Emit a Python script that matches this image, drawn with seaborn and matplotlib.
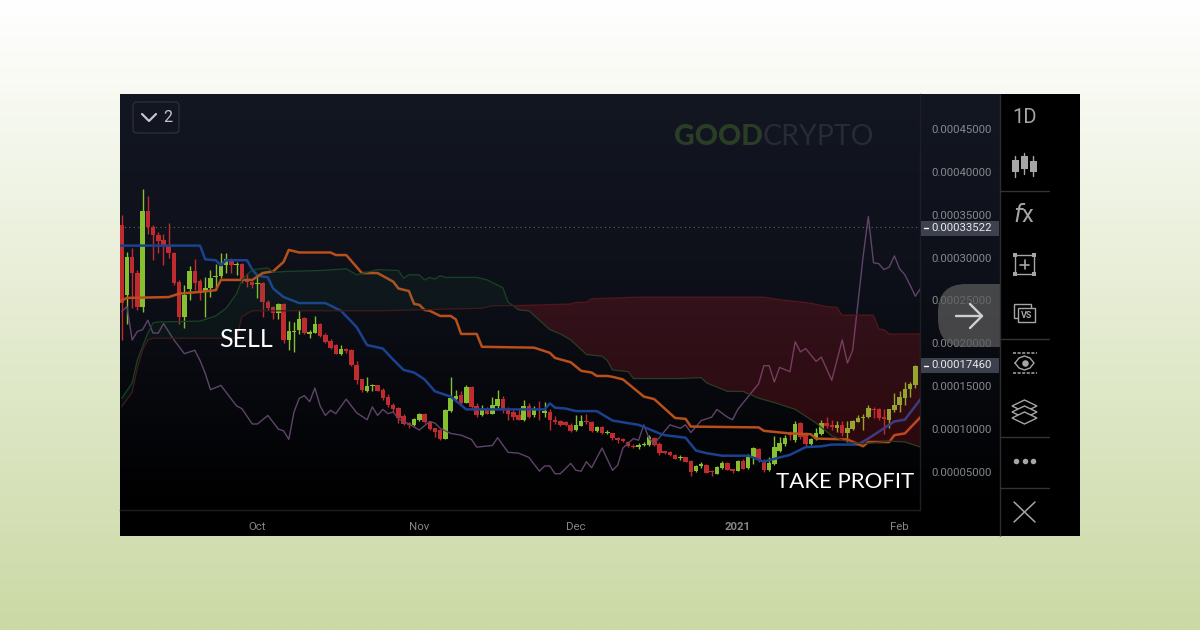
import numpy as np
import pandas as pd
import matplotlib
matplotlib.use("Agg")
import matplotlib.pyplot as plt
import seaborn as sns
from matplotlib.colors import LinearSegmentedColormap
from matplotlib.patches import FancyBboxPatch, Rectangle, Polygon

# candles, one a day from 5 Sep 2020, prices in units of 1e-5
opens = [33.8,25.6,30.1,28.2,24.3,35.4,33.6,32.6,32.0,31.5,30.5,27.2,23.1,26.3,28.4,27.3,26.1,26.4,27.7,27.8,
         29.1,29.7,29.1,29.3,27.5,27.1,26.9,27.0,24.8,24.2,23.6,24.6,20.4,21.3,21.6,23.0,21.1,21.2,22.3,21.0,
         20.3,19.8,18.8,19.3,19.2,17.5,15.8,14.5,15.05,15.1,14.6,13.8,12.8,12.5,11.5,10.7,10.5,11.1,11.8,10.8,
         10.1,9.9,8.9,12.1,13.5,14.0,13.1,14.9,12.7,11.6,12.4,11.8,12.7,13.5,12.3,12.0,11.6,11.1,12.7,11.6,
         12.4,11.9,12.0,11.1,11.0,10.8,10.5,9.9,10.4,11.0,10.8,9.8,10.3,9.5,9.5,9.0,8.9,8.5,8.0,7.9,
         8.1,8.2,9.0,8.3,7.4,7.3,7.0,6.6,6.8,6.3,5.1,5.7,5.8,5.1,4.8,5.5,6.1,5.3,5.1,6.3,
         5.5,6.7,7.7,6.3,5.2,5.9,7.4,8.3,9.5,8.7,10.7,9.3,8.3,8.8,9.4,10.7,10.5,10.1,10.5,9.6,
         10.0,10.8,11.3,11.4,12.4,12.3,11.4,11.1,12.2,12.8,13.6,14.7,15.1]
highs = [35.0,30.7,31.1,28.6,38.0,37.2,33.8,33.0,32.8,34.0,30.7,27.4,26.8,29.0,29.8,27.5,27.7,28.6,29.3,30.5,
         30.5,29.9,29.5,29.4,28.2,27.3,28.0,27.2,25.1,24.4,24.7,24.7,22.6,22.5,23.9,23.1,21.6,23.2,22.4,21.2,
         20.5,19.9,19.8,19.5,19.3,18.0,15.9,16.1,15.3,15.2,14.8,14.1,13.0,12.6,11.8,10.8,11.3,11.9,11.9,11.0,
         10.1,10.0,12.4,16.1,14.6,14.4,15.1,15.0,13.1,12.8,12.6,13.8,14.6,13.9,12.6,12.2,12.4,13.4,13.0,12.7,
         13.3,13.2,12.4,11.5,11.1,10.9,10.7,11.6,11.6,11.8,10.9,10.4,10.4,9.9,9.6,9.1,9.0,8.6,8.3,8.4,
         8.5,9.3,9.1,8.5,7.5,7.5,7.1,7.0,6.8,6.4,5.8,6.2,5.9,5.2,5.7,6.3,6.2,5.4,6.4,6.5,
         7.1,7.9,7.8,6.5,6.7,9.2,9.1,9.3,9.8,10.9,10.8,9.7,9.0,10.1,11.1,11.4,11.1,10.9,11.0,11.0,
         11.1,11.6,11.8,12.8,12.6,12.5,12.4,12.4,14.2,14.4,15.5,15.5,17.5]
lows = [20.4,22.3,24.1,23.9,23.7,32.8,29.7,30.5,29.1,29.9,26.8,22.3,21.8,25.1,26.2,25.1,23.1,25.4,26.2,27.6,
        28.2,28.2,28.0,27.0,26.6,26.4,25.3,23.1,23.9,22.8,22.9,20.0,19.2,19.0,21.1,21.1,20.6,21.2,20.8,20.1,
        19.4,18.8,18.6,18.9,17.4,15.3,14.3,14.3,14.4,14.4,13.4,12.6,12.0,10.7,10.5,10.1,10.4,10.9,10.7,9.9,
        9.1,8.7,8.8,12.0,13.2,12.8,13.0,12.4,11.4,11.5,11.8,11.8,12.5,11.9,11.1,11.1,11.1,10.9,11.3,11.4,
        11.1,11.4,9.9,10.6,10.4,10.4,9.7,9.8,10.4,10.6,9.7,9.7,9.4,9.4,8.7,8.4,8.5,7.9,7.8,7.7,
        8.0,8.0,8.0,7.0,7.1,6.9,6.5,6.4,6.2,4.5,5.0,5.5,4.9,4.5,4.8,5.4,5.2,4.9,5.1,5.3,
        5.4,5.9,6.2,5.0,5.1,5.8,7.3,8.0,8.7,8.5,8.8,8.0,8.2,8.7,9.3,10.1,9.9,9.7,9.2,8.5,
        9.9,10.8,9.9,11.3,11.3,11.1,9.4,10.1,12.0,12.0,12.8,13.8,14.8]
closes = [24.7,30.1,28.2,24.3,35.4,33.6,32.6,31.9,31.5,30.5,27.0,23.1,25.6,28.4,27.0,26.1,26.5,27.6,27.9,29.0,
          29.8,29.1,29.3,27.4,27.1,26.8,27.0,24.8,24.1,23.6,24.6,20.4,21.5,21.4,22.8,21.2,21.3,22.3,20.9,20.2,
          19.5,18.8,19.4,19.1,17.5,15.7,14.6,15.0,15.15,14.5,13.6,12.8,12.4,11.3,10.6,10.5,11.2,11.8,10.8,10.0,
          9.7,8.9,12.2,13.6,13.9,13.0,14.9,12.6,11.6,12.3,11.8,12.8,13.5,12.4,11.8,11.4,11.1,12.7,11.4,12.4,
          12.2,12.1,11.1,10.8,10.5,10.5,9.8,10.5,11.0,10.8,9.8,10.3,9.5,9.7,9.0,8.7,8.6,8.0,7.9,8.1,
          8.3,9.1,8.1,7.2,7.2,7.0,6.5,6.7,6.2,5.0,5.7,5.9,4.9,5.0,5.6,6.1,5.2,5.1,6.3,5.4,
          6.7,7.8,6.4,5.2,6.0,7.9,8.4,9.0,9.3,10.6,9.1,8.3,8.8,9.5,10.7,10.4,10.3,10.5,9.5,10.1,
          11.0,11.3,11.4,12.5,12.2,11.3,11.2,12.3,12.8,13.7,14.7,15.3,17.4]

# indicator lines, day number and price
tenkan_day = [-1,15,16,18,19,20,24,25,26,28,29,31,34,39,42,45,47,50,52,54,56,58,60,63,65,66,81,82,83,85,87,91,94,99,
              103,104,108,110,112,115,120,123,126,128,131,134,136,141,143,146,148,150,153]
tenkan = [31.4,31.4,29.8,29.7,29.1,29.7,29.7,28.6,27.9,27.7,26.4,25.4,24.7,24.7,23.8,21.9,19.8,19.4,18.1,16.9,16.6,15.8,14.4,13.8,12.8,12.3,12.3,13.0,12.5,12.4,12.1,12.1,11.0,10.5,
          9.5,9.3,9.0,7.5,7.2,6.9,6.9,6.2,6.7,7.0,7.9,8.0,8.2,8.2,8.9,10.1,10.9,11.1,13.5]
kijun_day = [-1,1,9,11,15,18,19,25,27,29,31,32,34,40,41,43,46,49,52,53,55,56,57,58,59,61,63,64,65,68,69,79,82,83,86,
             88,90,91,93,94,96,98,100,102,106,108,109,122,123,128,132,133,139,142,143,147,148,150,153]
kijun = [24.7,25.3,25.4,25.8,26.0,26.2,27.4,27.4,28.2,28.4,29.5,30.9,30.6,30.6,30.3,30.3,28.2,28.2,27.2,26.4,26.1,24.6,24.5,23.9,23.8,23.2,23.2,22.8,21.1,21.1,19.6,19.5,18.9,18.3,17.8,
         16.8,16.6,16.2,16.2,16.1,15.8,14.8,13.8,13.5,11.3,11.2,10.3,10.2,9.8,9.5,9.4,8.9,8.8,8.0,8.5,8.5,9.3,9.5,11.4]
span_a_day = [0,2,3,5,6,7,15,18,20,22,23,25,28,29,32,38,43,45,49,53,54,55,57,58,59,60,61,62,68,70,72,73,74,75,
              76,78,82,84,86,89,92,93,94,97,98,107,111,112,116,119,122,125,129,133,136,139,142,147,150,153]
span_a = [13.6,15.4,18.1,21.2,22.4,22.5,22.6,23.2,24.1,25.8,27.4,28.6,28.8,28.3,28.4,28.5,28.7,28.0,28.6,28.5,27.6,28.0,28.0,27.4,27.7,27.5,27.9,27.7,27.7,27.4,26.8,26.5,24.8,24.4,
          23.9,23.8,21.6,21.1,20.4,18.7,18.5,18.0,16.9,16.7,15.9,15.9,16.0,15.4,14.4,14.4,13.6,13.1,12.3,10.7,9.2,8.5,8.3,8.6,8.5,7.9]
span_b_day = [0,2,3,4,5,6,22,23,25,50,69,71,75,86,87,89,90,99,107,123,126,132,135,137,138,144,145,146,147,153]
span_b = [12.6,14.3,17.1,19.2,20.4,20.6,20.6,23.1,23.8,23.8,24.1,24.4,24.4,24.6,24.8,24.8,25.2,25.4,25.4,25.4,25.1,24.7,24.3,24.2,23.3,23.3,21.7,21.6,21.1,21.1]
chikou_day = [0,1,2,3,4,5,6,7,8,10,12,14,15,16,17,19,22,23,25,26,28,30,31,32,33,34,35,36,37,38,39,40,41,43,45,47,48,49,50,51,52,53,54,
              55,57,59,60,61,63,65,67,68,71,72,74,76,78,80,81,82,83,84,86,87,88,89,90,92,94,95,96,98,99,100,101,102,105,107,108,109,
              111,113,114,116,117,118,120,122,123,124,125,126,128,129,130,131,133,134,136,138,139,140,141,142,143,144,145,146,147,148,149,150,151,152,153]
chikou = [23.7,24.3,20.4,21.4,21.6,22.7,21.2,21.2,22.3,20.4,18.8,19.2,18.0,16.5,14.6,15.1,12.7,12.4,10.6,10.6,11.6,10.0,9.8,8.8,12.0,13.6,13.9,13.2,14.8,12.7,11.6,12.2,11.8,13.5,11.9,11.1,12.6,11.6,12.3,11.8,12.0,11.2,10.9,
          10.6,9.9,10.9,10.7,10.1,9.5,9.3,8.8,7.9,8.1,9.0,7.3,7.2,6.7,5.1,5.7,5.7,4.8,4.8,6.0,5.2,5.1,6.2,5.5,7.8,5.2,5.8,7.8,8.9,8.7,10.5,8.9,8.3,10.5,10.1,10.5,9.6,
          11.0,11.4,12.3,11.4,11.1,12.3,13.8,15.3,17.4,17.4,15.5,17.2,16.7,20.2,19.0,19.4,17.9,18.4,15.7,20.4,17.7,19.2,24.6,30.1,34.8,29.4,29.3,28.6,28.9,30.2,28.7,28.0,26.8,25.5,26.4]

price_ticks = [45, 40, 35, 30, 25, 20, 15, 10, 5]
price_labels = ["0.00045000","0.00040000","0.00035000","0.00030000","0.00025000","0.00020000","0.00015000","0.00010000","0.00005000"]
last_prices = [33.522, 17.460]
last_labels = ["0.00033522", "0.00017460"]
month_dates = ["2020-10-01","2020-11-01","2020-12-01","2021-01-01","2021-02-01"]
month_labels = ["Oct","Nov","Dec","2021","Feb"]

start = pd.Timestamp("2020-09-05")
df = pd.DataFrame({"day":np.arange(len(opens)),"open":opens,"high":highs,"low":lows,"close":closes})
up = df["close"] >= df["open"]

sns.set_theme(style="white")
plt.rcParams["font.family"] = ["Roboto", "DejaVu Sans"]

fig = plt.figure(figsize=(12, 6.3), dpi=100)

# pixel layer for the page and the panel background
back = fig.add_axes([0, 0, 1, 1], zorder=0)
page = LinearSegmentedColormap.from_list("page", ["#ffffff", "#cbd9a5"])
back.imshow(np.linspace(0, 1, 256)[:, None], extent=(0, 1200, 630, 0), aspect="auto", cmap=page)
dark = LinearSegmentedColormap.from_list("dark", ["#131722", "#0d0f18", "#000000"])
back.imshow(np.linspace(0, 1, 256)[:, None], extent=(120, 1000, 510, 94), aspect="auto", cmap=dark)
back.add_patch(Rectangle((120, 510), 880, 25.5, color="black", lw=0))
back.set_xlim(0, 1200)
back.set_ylim(630, 0)
back.axis("off")

# main chart, 120-920 px wide and 94-510 px high
ax = fig.add_axes([120/1200, 1-510/630, 800/1200, 416/630], zorder=1)
ax.patch.set_alpha(0)

ax.axhline(last_prices[0], color="#5f636e", lw=0.8, ls=(0, (1, 3)), zorder=1)

# candles
ax.vlines(df["day"][up], df["low"][up], df["high"][up], color="#86c030", lw=1.0, zorder=2)
ax.vlines(df["day"][~up], df["low"][~up], df["high"][~up], color="#bf2b2f", lw=1.0, zorder=2)
ax.bar(df["day"][up], (df["close"]-df["open"])[up], bottom=df["open"][up], width=0.86, color="#86c030", lw=0, zorder=2)
ax.bar(df["day"][~up], (df["open"]-df["close"])[~up], bottom=df["close"][~up], width=0.86, color="#bf2b2f", lw=0, zorder=2)

# indicator lines
sns.lineplot(x=chikou_day, y=chikou, color="#5f4469", lw=1.0, ax=ax, zorder=3)
sns.lineplot(x=tenkan_day, y=tenkan, color="#1a4290", lw=1.8, ax=ax, zorder=3)
sns.lineplot(x=kijun_day, y=kijun, color="#b94f1b", lw=1.8, ax=ax, zorder=3)
sns.lineplot(x=span_a_day, y=span_a, color="#1a4022", lw=0.9, ax=ax, zorder=4)
sns.lineplot(x=span_b_day, y=span_b, color="#431619", lw=0.9, ax=ax, zorder=4)

# cloud on top of the rest, split where the two spans cross
a_day, a_val = np.array(span_a_day), np.array(span_a)
b_day, b_val = np.array(span_b_day), np.array(span_b)
cross = 75
ax.fill(np.r_[a_day[a_day <= cross], b_day[b_day <= cross][::-1]],
        np.r_[a_val[a_day <= cross], b_val[b_day <= cross][::-1]], color="#1f8a50", alpha=0.08, lw=0, zorder=5)
ax.fill(np.r_[a_day[a_day >= cross], b_day[b_day >= cross][::-1]],
        np.r_[a_val[a_day >= cross], b_val[b_day >= cross][::-1]], color="#e0202c", alpha=0.18, lw=0, zorder=5)

ax.set_xlim(-0.33, 152.9)
ax.set_ylim(0.57, 49.08)
ax.yaxis.tick_right()
ax.set_yticks(price_ticks, price_labels)
ax.tick_params(axis="y", length=0, pad=8, labelsize=8.2, labelcolor="#85878c")
ax.set_xticks([(pd.Timestamp(d)-start).days for d in month_dates], month_labels)
ax.tick_params(axis="x", length=0, pad=9, labelsize=8.2, labelcolor="#85878c")
ax.get_xticklabels()[3].set_fontweight("bold")
ax.set_xlabel("")
ax.set_ylabel("")
for side in ["top", "left"]:
    ax.spines[side].set_visible(False)
for side in ["bottom", "right"]:
    ax.spines[side].set_color("#1d1f25")
    ax.spines[side].set_linewidth(1)

ax.text(0.1237, 0.409, "SELL", transform=ax.transAxes, color="white", fontsize=18, family="Lato", va="center", zorder=8)
ax.text(0.9925, 0.068, "TAKE PROFIT", transform=ax.transAxes, color="white", fontsize=16, family="Lato", va="center", ha="right", zorder=8)

# pixel layer for the tags, button and toolbar
top = fig.add_axes([0, 0, 1, 1], zorder=2)
top.patch.set_alpha(0)
top.set_xlim(0, 1200)
top.set_ylim(630, 0)
top.axis("off")

top.text(674, 137, "GOOD", color="#2a3d25", fontsize=20.5, family="Lato", weight="black", va="center")
top.text(763, 137, "CRYPTO", color="#282b36", fontsize=20.5, family="Lato", weight="normal", va="center")

top.add_patch(FancyBboxPatch((133, 102), 46, 31, boxstyle="round,pad=0,rounding_size=4", fc="none", ec="#2b2e38", lw=1))
top.plot([142, 149, 156], [114, 121, 114], color="#c4c6cc", lw=1.6)
top.text(168, 117, "2", color="#c4c6cc", fontsize=11.5, ha="center", va="center")

for y, label in zip([228, 365.5], last_labels):
    top.add_patch(Rectangle((921, y-7.5), 78, 15, color="#3d414d", lw=0, zorder=3))
    top.plot([924, 928], [y, y], color="white", lw=1, zorder=4)
    top.text(931, y, label, color="#e8e8ea", fontsize=8.2, va="center", zorder=4)

# arrow button, its right side is hidden by the toolbar
top.add_patch(FancyBboxPatch((938, 284), 110, 63, boxstyle="round,pad=0,rounding_size=28", fc="#5c5c5c", ec="none", alpha=0.72, zorder=5))
top.plot([956, 982], [316, 316], color="#cfcfcf", lw=1.7, zorder=6)
top.plot([970, 982, 970], [304, 316, 328], color="#cfcfcf", lw=1.7, zorder=6)

# toolbar
top.add_patch(Rectangle((999.5, 94), 80.5, 441.5, color="black", lw=0, zorder=7))
top.plot([999.5, 999.5], [94, 535.5], color="#2d2d30", lw=1, solid_capstyle="butt", zorder=8)
for y in [191, 339, 437, 488]:
    top.plot([1000, 1049], [y, y], color="#333336", lw=1, zorder=8)
grey = "#a6a6a8"
top.text(1024.5, 117.5, "1D", color=grey, fontsize=14.5, ha="center", va="center", zorder=8)
for x, y0, y1, y2, y3 in [(1015, 156, 160, 172, 177), (1024, 153, 156, 169, 174), (1033, 156, 161, 172, 176)]:
    top.plot([x, x], [y0, y3], color=grey, lw=1, zorder=8)
    top.add_patch(Rectangle((x-3.5, y1), 7, y2-y1, color=grey, lw=0, zorder=8))
top.text(1024, 216, "$f$x", color=grey, fontsize=17, ha="center", va="center", zorder=8, math_fontfamily="dejavusans")
top.add_patch(Rectangle((1015, 255), 19, 19, fc="none", ec=grey, lw=1.0, zorder=8))
for px, py in [(1015, 255), (1034, 255), (1015, 274), (1034, 274)]:
    top.add_patch(Rectangle((px-2.2, py-2.2), 4.4, 4.4, color=grey, lw=0, zorder=8))
top.plot([1020, 1029], [264.5, 264.5], color=grey, lw=1.2, zorder=8)
top.plot([1024.5, 1024.5], [260, 269], color=grey, lw=1.2, zorder=8)
top.add_patch(Rectangle((1014, 304), 17, 14, fc="black", ec=grey, lw=1.0, zorder=8))
top.add_patch(Rectangle((1018, 308), 17, 14, fc="black", ec=grey, lw=1.0, zorder=9))
top.text(1026.5, 315, "VS", color=grey, fontsize=6.5, weight="bold", ha="center", va="center", zorder=10)
for y in [353, 373]:
    top.plot([1013, 1037], [y, y], color=grey, lw=1.1, ls=(0, (2, 1)), zorder=8)
eye_x = np.array([1015, 1019, 1024.5, 1030, 1034, 1030, 1024.5, 1019, 1015])
eye_y = np.array([363, 358, 356, 358, 363, 368, 370, 368, 363])
top.plot(eye_x, eye_y, color=grey, lw=1.0, zorder=8)
top.scatter([1024.5], [363], s=22, color=grey, lw=0, zorder=8)
for y in [406, 412, 418]:
    top.add_patch(Polygon([[1012, y], [1024.5, y-6], [1037, y], [1024.5, y+6]], fc="black", ec=grey, lw=1.0, zorder=8))
top.scatter([1016, 1024.5, 1033], [461, 461, 461], s=16, color=grey, lw=0, zorder=8)
top.plot([1014, 1035], [502, 522], color=grey, lw=1.1, zorder=8)
top.plot([1014, 1035], [522, 502], color=grey, lw=1.1, zorder=8)

fig.savefig("out.png", dpi=100)
